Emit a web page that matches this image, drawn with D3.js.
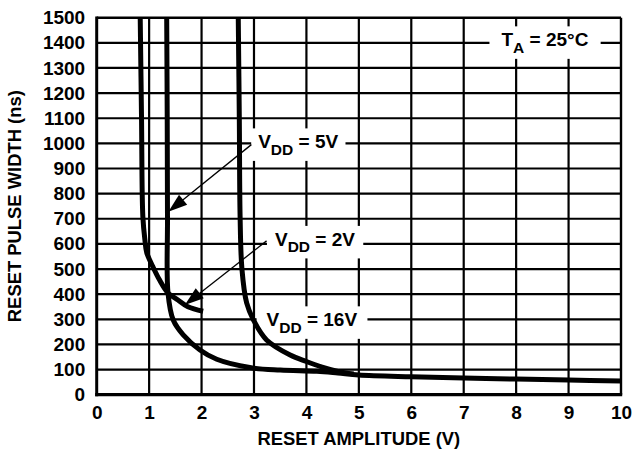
<!DOCTYPE html>
<html><head><meta charset="utf-8">
<script src="https://cdn.jsdelivr.net/npm/d3@7/dist/d3.min.js"></script>
<style>
html,body{margin:0;padding:0;background:#fff;}
svg{display:block;font-family:"Liberation Sans",Arial,Helvetica,sans-serif;font-weight:bold;}
</style></head><body>
<svg id="chart" width="632" height="452"></svg>
<script>
// ---- data ----
const xTicks = [0,1,2,3,4,5,6,7,8,9,10];
const yTicks = [0,100,200,300,400,500,600,700,800,900,1000,1100,1200,1300,1400,1500];

const vdd2V_amp   = [0.83, 0.855, 0.88, 0.92, 0.955, 1.07, 1.2, 1.36, 1.55, 1.74, 2.03];
const vdd2V_width = [1500, 1100, 710, 615, 565, 510, 456, 405, 377, 350, 332];

const vdd5V_amp   = [1.335, 1.345, 1.35, 1.36, 1.46, 1.65, 1.97, 2.29, 2.92, 3.5, 4.2, 4.6, 5.0, 6.0, 7.0, 8.0, 9.0, 10.0];
const vdd5V_width = [1500, 1100, 700, 405, 297, 238, 178, 141, 108, 98, 93, 86, 78, 71, 66, 62, 58, 55];

const vdd16V_amp   = [2.70, 2.72, 2.735, 2.77, 2.86, 2.99, 3.24, 3.69, 4.0, 4.3, 4.6, 4.9];
const vdd16V_width = [1500, 1100, 710, 500, 365, 297, 218, 158, 132, 110, 93, 82];

const xTitle = "RESET AMPLITUDE (V)";
const yTitle = "RESET PULSE WIDTH (ns)";

// ---- layout ----
const W = 632, H = 452;
const L = 96.7, R = 621, T = 17.7, B = 394.7;
const svg = d3.select("#chart");
const x = d3.scaleLinear().domain([0,10]).range([L,R]);
const y = d3.scaleLinear().domain([0,1500]).range([B,T]);

// grid
const grid = svg.append("g").attr("stroke","#000").attr("stroke-width",2.2);
grid.selectAll("line.v").data(xTicks.slice(1,-1)).join("line")
  .attr("x1",d=>x(d)).attr("x2",d=>x(d)).attr("y1",T).attr("y2",B);
grid.selectAll("line.h").data(yTicks.slice(1,-1)).join("line")
  .attr("x1",L).attr("x2",R).attr("y1",d=>y(d)).attr("y2",d=>y(d));
// frame
svg.append("line").attr("x1",L).attr("x2",R).attr("y1",T).attr("y2",T).attr("stroke","#000").attr("stroke-width",2.6);
svg.append("line").attr("x1",R).attr("x2",R).attr("y1",T).attr("y2",B).attr("stroke","#000").attr("stroke-width",2.4);

// annotation boxes & text (boxes drawn before curves)
const labels = [
  {main:"V", sub:"DD", rest:" = 5V", ax:3.08, ay:980, px:7, py:3},
  {main:"V", sub:"DD", rest:" = 2V", ax:3.40, ay:592, px:8, py:3},
  {main:"V", sub:"DD", rest:" = 16V", ax:3.24, ay:272, px:10, py:3},
  {main:"T", sub:"A", rest:" = 25\u00B0C", ax:7.72, ay:1386, px:12, py:3}
];
const boxLayer = svg.append("g");
const textLayer = svg.append("g");
labels.forEach(lb=>{
  const t = textLayer.append("text").attr("x",x(lb.ax)).attr("y",y(lb.ay))
    .attr("font-size",19).attr("fill","#000");
  t.append("tspan").text(lb.main);
  t.append("tspan").attr("font-size",15.5).attr("dy",6.5).text(lb.sub);
  t.append("tspan").attr("dy",-6.5).text(lb.rest);
  const bb = t.node().getBBox();
  boxLayer.append("rect").attr("x",bb.x-lb.px).attr("y",bb.y-lb.py)
    .attr("width",bb.width+2*lb.px).attr("height",bb.height+2*lb.py).attr("fill","#fff");
});

// curves
const clip = svg.append("clipPath").attr("id","clip").append("rect")
  .attr("x",L).attr("y",T).attr("width",R-L).attr("height",B-T);
const line = d3.line().x(d=>x(d[0])).y(d=>y(d[1])).curve(d3.curveCatmullRom.alpha(0.5));
const series = [
  d3.zip(vdd2V_amp, vdd2V_width),
  d3.zip(vdd5V_amp, vdd5V_width),
  d3.zip(vdd16V_amp, vdd16V_width)
];
svg.append("g").attr("clip-path","url(#clip)").selectAll("path").data(series).join("path")
  .attr("d",line).attr("fill","none").attr("stroke","#000").attr("stroke-width",5)
  .attr("stroke-linejoin","round");

// axes lines (thicker)
svg.append("line").attr("x1",L).attr("x2",L).attr("y1",T-1.2).attr("y2",B+1.5).attr("stroke","#000").attr("stroke-width",3);
svg.append("line").attr("x1",L-1.5).attr("x2",R+1.2).attr("y1",B).attr("y2",B).attr("stroke","#000").attr("stroke-width",3.2);

// arrows
const arrows = [
  {from:[2.95,995], to:[1.366,728]},
  {from:[3.24,612], to:[1.68,357]}
];
const aLayer = svg.append("g");
arrows.forEach(a=>{
  const x0=x(a.from[0]), y0=y(a.from[1]), x1=x(a.to[0]), y1=y(a.to[1]);
  const dx=x1-x0, dy=y1-y0, len=Math.hypot(dx,dy), ux=dx/len, uy=dy/len;
  const hl=19, hw=6.5;
  const bx=x1-ux*hl, by=y1-uy*hl;
  aLayer.append("line").attr("x1",x0).attr("y1",y0).attr("x2",bx+ux*2).attr("y2",by+uy*2)
    .attr("stroke","#000").attr("stroke-width",1.3);
  aLayer.append("path").attr("d",`M${x1},${y1}L${bx-uy*hw},${by+ux*hw}L${bx+uy*hw},${by-ux*hw}Z`)
    .attr("fill","#000");
});
textLayer.raise();

// tick labels
const xAxis = svg.append("g").attr("transform",`translate(0,${B})`)
  .call(d3.axisBottom(x).tickValues(xTicks).tickSize(0).tickPadding(11).tickFormat(d3.format("d")));
const yAxis = svg.append("g").attr("transform",`translate(${L},0)`)
  .call(d3.axisLeft(y).tickValues(yTicks).tickSize(0).tickPadding(11.5).tickFormat(d3.format("d")));
[xAxis,yAxis].forEach(g=>{
  g.select(".domain").remove();
  g.selectAll("text").attr("font-size",19).attr("font-family",null).attr("font-weight","bold").attr("fill","#000");
  g.attr("font-family",null);
});

// titles
svg.append("text").attr("x",(L+R)/2).attr("y",445).attr("text-anchor","middle")
  .attr("font-size",18.4).text(xTitle);
svg.append("text").attr("transform",`translate(20.7,${(T+B)/2}) rotate(-90)`).attr("text-anchor","middle")
  .attr("font-size",18.4).text(yTitle);
</script>
</body></html>
